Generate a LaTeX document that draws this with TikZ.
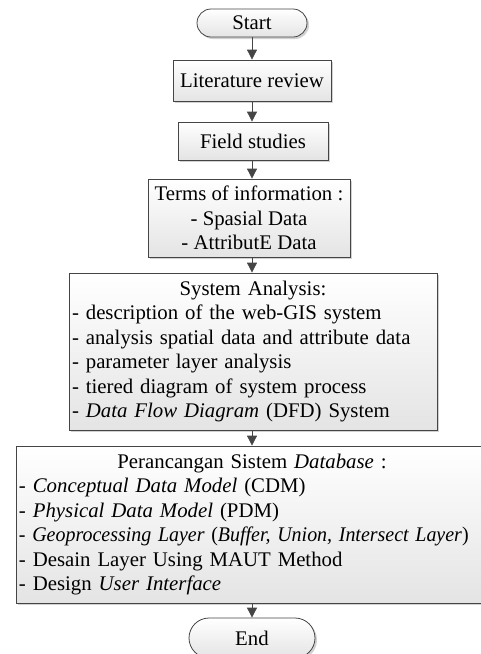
\documentclass[tikz,border=0pt]{standalone}
\usepackage{fontspec}
\usepackage{graphicx}
\setmainfont{Liberation Serif}
\usetikzlibrary{arrows.meta,shadows}
\definecolor{linec}{HTML}{454545}
\definecolor{boxbot}{HTML}{E4E4E4}
\begin{document}
\begin{tikzpicture}[x=1pt,y=-1pt,
  box/.style={draw=linec, line width=0.8pt, top color=white, bottom color=boxbot,
    drop shadow={shadow xshift=2pt,shadow yshift=-2pt,fill=black!40,opacity=0.45},
    font=\fontsize{20.8}{24.5}\selectfont, inner xsep=3pt, inner ysep=0pt},
  termbox/.style={box, rounded corners=14pt},
  arr/.style={draw=linec, line width=0.8pt, -{Triangle[length=10pt,width=10pt]}}]
\useasboundingbox (0,0) rectangle (481,654);
\coordinate (ax) at (252,0);
\node[termbox, minimum width=110pt, minimum height=28pt] (start) at (252,23) {Start};
\node[box, minimum width=158pt, minimum height=41pt] (lit) at (252,80.5) {Literature review};
\node[box, minimum width=150pt, minimum height=38pt] (field) at (253,141) {Field studies};
\node[box, minimum width=202pt, minimum height=78pt, align=center] (terms) at (249,218)
  {Terms of information :\\- Spasial Data\\- AttributE Data};
\node[box, minimum width=368pt, minimum height=157pt, text width=362pt, align=left] (sa) at (253,351.5)
  {\makebox[\linewidth]{System Analysis:}\\
   - description of the web-GIS system\\
   - analysis spatial data and attribute data\\
   - parameter layer analysis\\
   - tiered diagram of system process\\
   - \textit{Data Flow Diagram} (DFD) System};
\node[box, minimum width=472pt, minimum height=157pt, text width=466pt, align=left] (db) at (252,524.5)
  {\makebox[\linewidth]{Perancangan Sistem \textit{Database} :}\\
   - \textit{Conceptual Data Model} (CDM)\\
   - \textit{Physical Data Model} (PDM)\\
   \makebox[\linewidth][l]{\scalebox{0.96}[1]{- \textit{Geoprocessing Layer} (\textit{Buffer, Union, Intersect Layer})}}\\
   - Desain Layer Using MAUT Method\\
   - Design \textit{User Interface}};
\node[termbox, rounded corners=20pt, minimum width=126pt, minimum height=40pt] (end) at (252,638) {End};
\draw[arr] (start.south -| ax) -- (lit.north -| ax);
\draw[arr] (lit.south -| ax) -- (field.north -| ax);
\draw[arr] (field.south -| ax) -- (terms.north -| ax);
\draw[arr] (terms.south -| ax) -- (sa.north -| ax);
\draw[arr] (sa.south -| ax) -- (db.north -| ax);
\draw[arr] (db.south -| ax) -- (end.north -| ax);
\end{tikzpicture}
\end{document}
